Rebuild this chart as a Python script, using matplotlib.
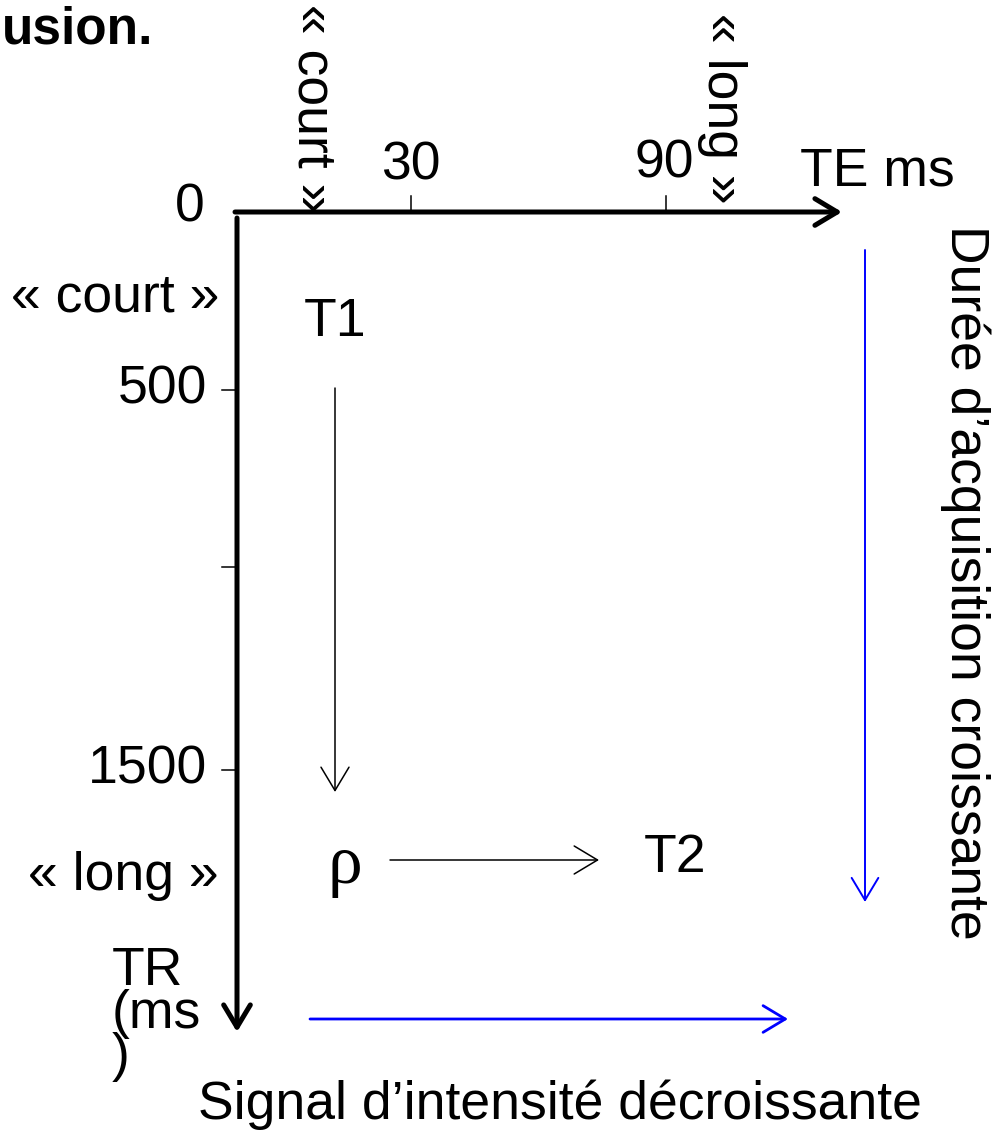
import numpy as np
import matplotlib
matplotlib.use('Agg')
import matplotlib.pyplot as plt

# echelle TE (ms) et TR (ms) du schema
te_ticks = [30, 90]
te_labels = ['30', '90']
tr_ticks = [500, 1000, 1500]
tr_labels = ['500', '', '1500']

# correspondance valeur -> pixel (schema non lineaire)
te_ref = [0, 30, 90, 140]
te_pix = [237, 411, 666, 842]
tr_ref = [0, 500, 1000, 1500, 2200]
tr_pix = [212, 390, 567, 770, 1032]

def te_x(v):
    return np.interp(v, te_ref, te_pix)

def tr_y(v):
    return np.interp(v, tr_ref, tr_pix)

plt.rcParams['font.family'] = ['Liberation Sans', 'DejaVu Sans']
FS = 38.5

fig = plt.figure(figsize=(10, 11.32), dpi=100)
ax = fig.add_axes([0, 0, 1, 1])
ax.set_xlim(0, 1000)
ax.set_ylim(1132, 0)
ax.axis('off')

def arrow(x0, y0, x1, y1, color='k', lw=1.1, ms=40):
    ax.annotate('', xy=(x1, y1), xytext=(x0, y0),
                arrowprops=dict(arrowstyle='->,head_length=0.4,head_width=0.24',
                                color=color, lw=lw, mutation_scale=ms,
                                shrinkA=0, shrinkB=0))

# axes epais
arrow(te_x(0) - 2, tr_y(0), te_x(140), tr_y(0), lw=3.6, ms=40)
arrow(te_x(0), tr_y(0) + 6, te_x(0), tr_y(2200), lw=3.6, ms=40)

# graduations TE
for v, lab in zip(te_ticks, te_labels):
    ax.plot([te_x(v), te_x(v)], [tr_y(0) - 16, tr_y(0)], color='k', lw=1.1)
ax.text(te_x(30), 165, te_labels[0], fontsize=FS, ha='center', va='center')
ax.text(te_x(90) - 2, 163, te_labels[1], fontsize=FS, ha='center', va='center')
ax.text(190, 208, '0', fontsize=FS, ha='center', va='center')
ax.text(800, 172, 'TE ms', fontsize=FS, ha='left', va='center')

# graduations TR
for v, lab in zip(tr_ticks, tr_labels):
    ax.plot([te_x(0) - 15, te_x(0)], [tr_y(v), tr_y(v)], color='k', lw=1.1)
    if lab:
        ax.text(207, tr_y(v), lab, fontsize=FS, ha='right', va='center')

ax.text(219, 298, '« court »', fontsize=FS, ha='right', va='center')
ax.text(219, 876, '« long »', fontsize=FS, ha='right', va='center')
ax.text(312, 108, '« court »', fontsize=FS, ha='center', va='center', rotation=270)
ax.text(722, 108, '« long »', fontsize=FS, ha='center', va='center', rotation=270)

ax.text(112, 1014, 'TR\n(ms\n)', fontsize=FS, ha='left', va='center',
        linespacing=0.82)

ax.text(2, 30, 'usion.', fontsize=37, fontweight='bold', ha='left', va='center')

# ponderations
ax.text(335, 322, 'T1', fontsize=FS, ha='center', va='center')
arrow(335, 388, 335, 792, lw=1.1, ms=42)
ax.text(345, 866, 'ρ', fontsize=50, ha='center', va='center',
        family=['Liberation Serif', 'DejaVu Serif'])
arrow(390, 860, 599, 860, lw=1.1, ms=42)
ax.text(675, 858, 'T2', fontsize=FS, ha='center', va='center')

# fleches bleues
arrow(865, 250, 865, 902, color='#0000ff', lw=1.4, ms=40)
arrow(310, 1019, 788, 1019, color='#0000ff', lw=2.0, ms=40)
ax.text(965, 582, 'Durée d’acquisition croissante', fontsize=FS, ha='center',
        va='center', rotation=270)
ax.text(560, 1105, 'Signal d’intensité décroissante', fontsize=FS, ha='center',
        va='center')

fig.savefig('out.png', dpi=100)
